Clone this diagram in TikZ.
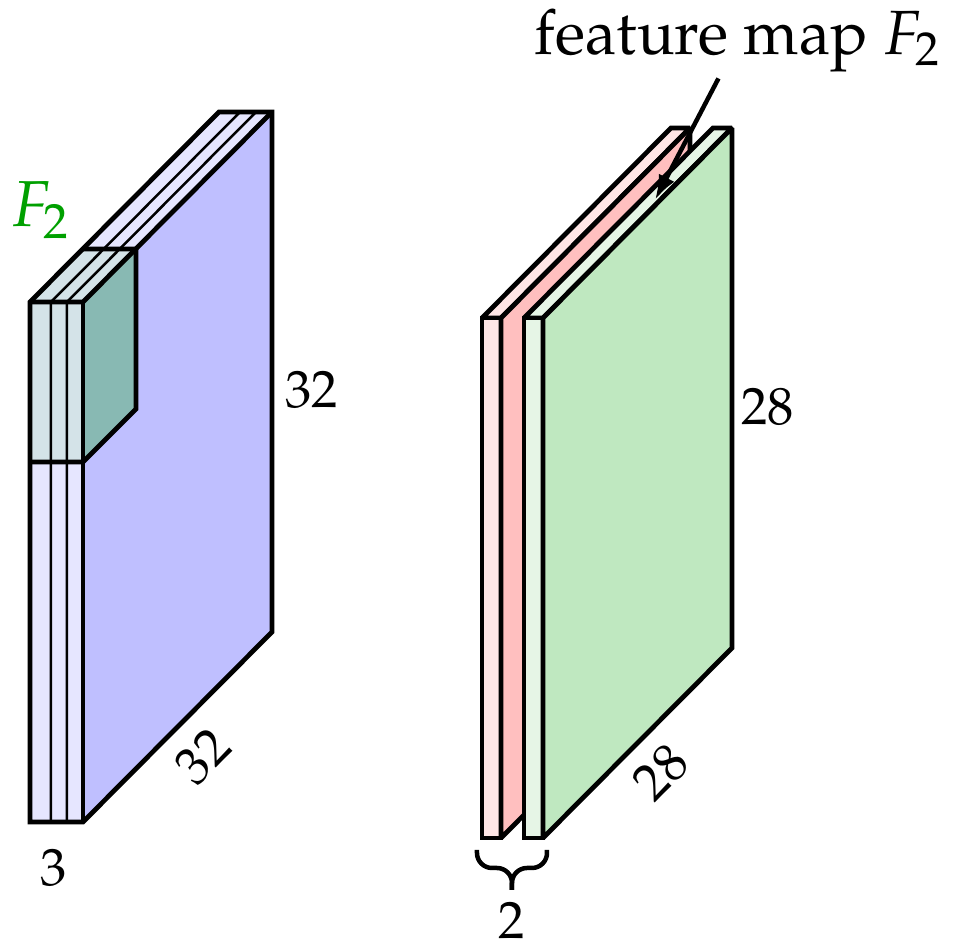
\documentclass[tikz,border=0pt]{standalone}
\usepackage[T1]{fontenc}
\usepackage{mathpazo}
\usetikzlibrary{arrows.meta, calc}
\definecolor{InLight}{HTML}{E6E6FF}
\definecolor{InSide}{HTML}{BFBFFF}
\definecolor{PatchLight}{HTML}{D4E3E8}
\definecolor{PatchSide}{HTML}{88B9B3}
\definecolor{RedLight}{HTML}{FFE6E6}
\definecolor{RedSide}{HTML}{FFBFBF}
\definecolor{GreenLight}{HTML}{E6F5E6}
\definecolor{GreenSide}{HTML}{BFE8C0}
\definecolor{FilterGreen}{HTML}{00A000}
\tikzset{
    % Face and line styles
    blockface/.style={
        draw=black,
        line width=0.95pt,
        miter limit=1.5
    },
    chanline/.style={
        draw=black,
        line width=0.5pt
    },
    % Label styles
    dimlabel/.style={
        font=\fontsize{10.5}{12}\selectfont,
        inner sep=1pt
    },
    % Arrow and brace styles
    myarrow/.style={
        -{Latex[length=5pt,width=3.5pt]},
        line width=0.9pt
    },
    mybrace/.style={
        draw=black,
        line width=0.9pt,
        rounded corners=3pt
    }
}
\begin{document}
\begin{tikzpicture}[x=0.2pt,y=-0.2pt]
    \useasboundingbox (0,0) rectangle (953,947);

    % Input volume
    \fill[InLight] (30,302) -- (83,302) -- (272,112) -- (219,112) -- cycle;
    \fill[InLight] (30,302) rectangle (83,822);
    \fill[InSide] (83,302) -- (272,112) -- (272,632) -- (83,822) -- cycle;

    % Filter patch
    \fill[PatchLight] (30,302) -- (83,302) -- (136,249) -- (83,249) -- cycle;
    \fill[PatchLight] (30,302) rectangle (83,462);
    \fill[PatchSide] (83,302) -- (136,249) -- (136,409) -- (83,462) -- cycle;

    % Channel lines
    \foreach \cx in {51,67} {
        \draw[chanline] (\cx,822) -- (\cx,302) -- ++(189,-190);
    }

    % Outlines
    \draw[blockface] (30,822) -- (30,302) -- (219,112) -- (272,112) -- (272,632) -- (83,822) -- cycle;
    \draw[blockface] (30,302) -- (83,302) -- (272,112);
    \draw[blockface] (83,302) -- (83,822);
    \draw[blockface] (30,462) -- (83,462) -- (136,409) -- (136,249) -- (83,249);

    % Output volume
    \foreach \sx/\lc/\sc in {482/RedLight/RedSide, 524/GreenLight/GreenSide} {
        \filldraw[blockface, fill=\lc] (\sx,318) -- ++(19,0) -- ++(189,-190) -- ++(-19,0) -- cycle;
        \filldraw[blockface, fill=\lc] (\sx,318) rectangle ++(19,520);
        \filldraw[blockface, fill=\sc] (\sx+19,318) -- ++(189,-190) -- ++(0,520) -- ++(-189,190) -- cycle;
    }

    % Labels
    \node[dimlabel] (inH) at (312,390) {32};
    \node[dimlabel, rotate=45] (inW) at (203,756) {32};
    \node[dimlabel] (inC) at (54,868) {3};
    \node[dimlabel] (outH) at (768,407) {28};
    \node[dimlabel, rotate=45] (outW) at (661,772) {28};
    \node[dimlabel] (outC) at (512,920) {2};
    \node[font=\fontsize{13}{15}\selectfont, text=FilterGreen, inner sep=1pt] (filt) at (41,210) {$F_2$};
    \node[font=\fontsize{12.5}{15}\selectfont, inner sep=1pt] (fmap) at (738,41) {feature map $F_2$};

    % Arrow and brace
    \coordinate (fmtip) at (655,200);
    \draw[myarrow] (fmap) -- (fmtip);
    \coordinate (brL) at (477,850);
    \coordinate (brR) at (547,850);
    \coordinate (brM) at (512,868);
    \coordinate (brT) at (512,890);
    \draw[mybrace] (brL) |- (brM) -- (brT);
    \draw[mybrace] (brR) |- (brM) -- (brT);
\end{tikzpicture}
\end{document}
